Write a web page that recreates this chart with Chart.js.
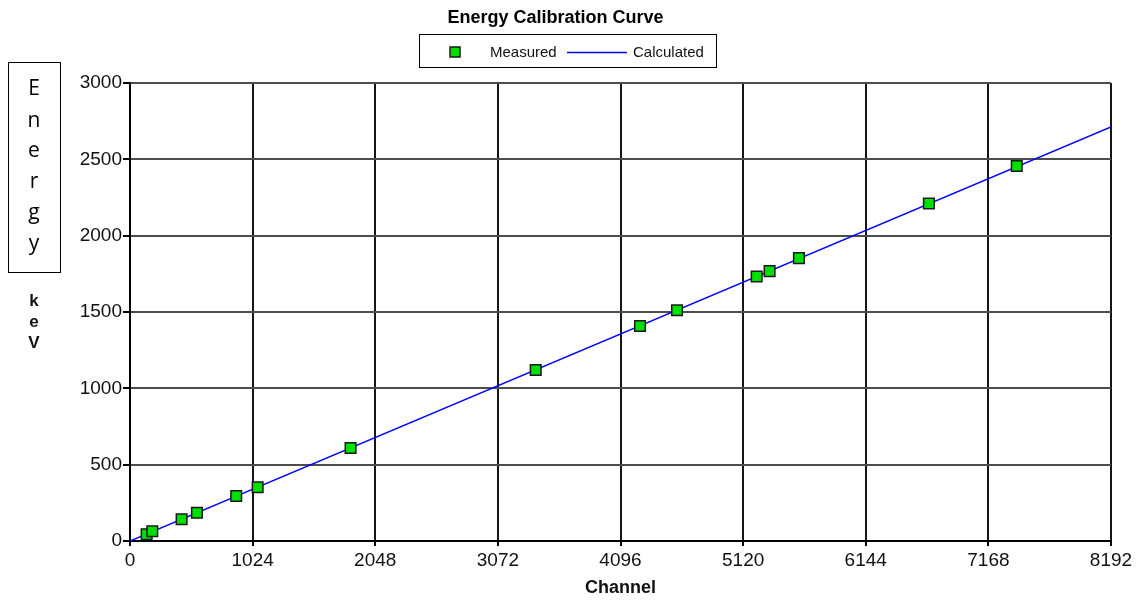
<!DOCTYPE html>
<html><head><meta charset="utf-8">
<script src="https://cdn.jsdelivr.net/npm/chart.js@4.4.1/dist/chart.umd.min.js"></script>
<style>html,body{margin:0;padding:0;background:#fff;}</style>
</head><body>
<canvas id="c" width="1140" height="601"></canvas>
<script>
const chartTitle = 'Energy Calibration Curve';
const xAxisTitle = 'Channel';
const yAxisTitleLetters = ['E','n','e','r','g','y'];
const yAxisUnitLetters = ['k','e','V'];
const xTickValues = [0,1024,2048,3072,4096,5120,6144,7168,8192];
const yTickValues = [0,500,1000,1500,2000,2500,3000];
const measuredChannels = [139,186,431,559,887,1066,1842,3388,4259,4568,5233,5341,5586,6671,7405];
const measuredEnergies = [44,64,142,185,295,352,609,1120,1408,1511,1733,1768,1853,2211,2456];
const calculatedChannels = [0,8192];
const calculatedEnergies = [0,2712];

const FONT = "'Liberation Sans', Arial, sans-serif";

const sideLabels = {
  id: 'sideLabels',
  afterDraw(chart) {
    const ctx = chart.ctx;
    ctx.save();
    // y-axis title box
    ctx.strokeStyle = '#000';
    ctx.lineWidth = 1;
    ctx.strokeRect(8.5, 62.5, 52, 210);
    ctx.fillStyle = '#000';
    ctx.font = "21px 'Open Sans', sans-serif";
    ctx.textAlign = 'center';
    ctx.textBaseline = 'middle';
    const ly = [89, 121, 151, 182, 213, 244];
    yAxisTitleLetters.forEach((ch, i) => ctx.fillText(ch, 34, ly[i]));
    ctx.font = "bold 17px " + FONT;
    ctx.fillStyle = '#111';
    yAxisUnitLetters.forEach((ch, i) => ctx.fillText(ch, 34, 301 + i * 21));
    // legend
    ctx.strokeRect(419.5, 34.5, 297, 33);
    const ds = chart.data.datasets;
    ctx.fillStyle = ds[0].backgroundColor;
    ctx.strokeStyle = ds[0].borderColor;
    ctx.lineWidth = 1.5;
    ctx.fillRect(450, 47, 10, 10);
    ctx.strokeRect(450, 47, 10, 10);
    ctx.font = "15px " + FONT;
    ctx.fillStyle = '#111';
    ctx.textAlign = 'left';
    ctx.fillText(ds[0].label, 490, 53);
    ctx.strokeStyle = ds[1].borderColor;
    ctx.lineWidth = 1.5;
    ctx.beginPath(); ctx.moveTo(567, 52.5); ctx.lineTo(627, 52.5); ctx.stroke();
    ctx.fillText(ds[1].label, 633, 53);
    ctx.restore();
  }
};

new Chart(document.getElementById('c'), {
  type: 'scatter',
  data: {
    datasets: [
      {
        label: 'Measured',
        data: measuredChannels.map((x, i) => ({x, y: measuredEnergies[i]})),
        backgroundColor: '#00e000',
        borderColor: '#1a1a1a',
        borderWidth: 1.5,
        pointStyle: 'rect',
        pointRadius: 7.5,
        pointHoverRadius: 7.5
      },
      {
        label: 'Calculated',
        type: 'line',
        data: calculatedChannels.map((x, i) => ({x, y: calculatedEnergies[i]})),
        borderColor: '#0000ff',
        borderWidth: 1.5,
        pointRadius: 0,
        showLine: true,
        fill: false
      }
    ]
  },
  options: {
    responsive: false,
    devicePixelRatio: 1,
    animation: false,
    layout: { padding: { left: 0, right: 29, top: 0, bottom: 0 } },
    plugins: {
      legend: { display: false },
      tooltip: { enabled: false },
      title: {
        display: true,
        text: chartTitle,
        color: '#000',
        font: { family: FONT, size: 18, weight: 'bold', lineHeight: 1.2 },
        padding: { top: 7, bottom: 54.4 }
      }
    },
    scales: {
      x: {
        type: 'linear',
        min: 0, max: 8192,
        afterBuildTicks: s => { s.ticks = xTickValues.map(v => ({ value: v })); },
        afterFit: s => { s.height = 60; },
        ticks: { autoSkip: false, maxRotation: 0, color: '#111', padding: 3,
          font: { family: FONT, size: 19 }, callback: v => String(v) },
        grid: { color: '#151515', lineWidth: 2, tickLength: 5, tickColor: '#000' },
        border: { color: '#000', width: 2 },
        title: { display: true, text: xAxisTitle, color: '#111',
          font: { family: FONT, size: 18, weight: 'bold', lineHeight: 1.2 },
          padding: { top: 0, bottom: 2 } }
      },
      y: {
        type: 'linear',
        min: 0, max: 3000,
        afterBuildTicks: s => { s.ticks = yTickValues.map(v => ({ value: v })); },
        afterFit: s => { s.width = 130; },
        ticks: { color: '#111', padding: 1, font: { family: FONT, size: 19 }, callback: v => String(v) },
        grid: { color: '#4d4d4d', lineWidth: 2, tickLength: 7, tickColor: '#000' },
        border: { color: '#000', width: 2 }
      }
    }
  },
  plugins: [sideLabels]
});
</script>
</body></html>
